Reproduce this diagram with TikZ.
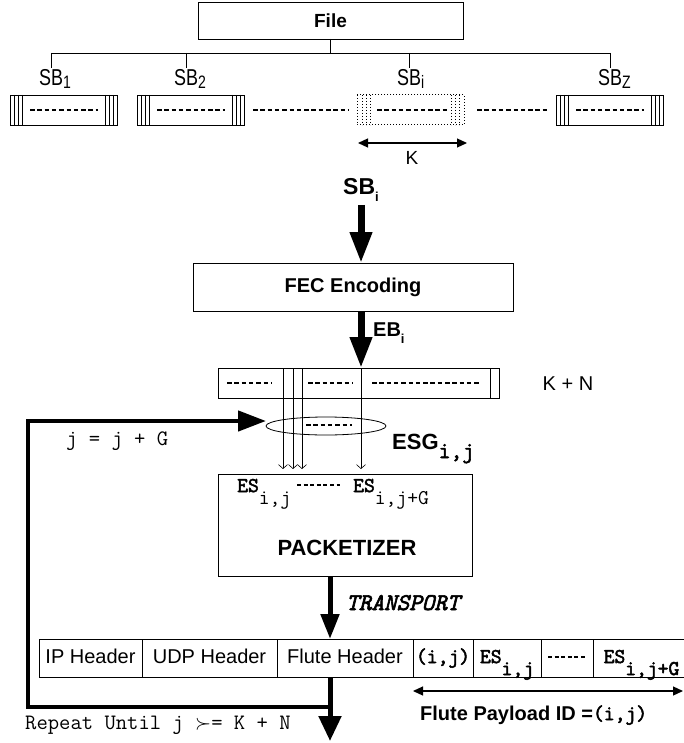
\documentclass[tikz,border=0pt]{standalone}
\usepackage{fontspec}
\setmainfont{Liberation Sans}
\newfontfamily\narrowsf{Liberation Sans}[FakeStretch=0.78]
\newfontfamily\ttb{Latin Modern Mono}[FakeBold=2.5]
\usetikzlibrary{arrows.meta,positioning,shapes.geometric}

\newcommand{\pt}[1]{\fontsize{#1}{#1}\selectfont}
\newcommand{\lowsub}[2]{\raisebox{-#1}[0pt][0pt]{#2}}

\tikzset{
  box/.style={draw, line width=0.8pt, inner sep=0pt, outer sep=0pt},
  cell/.style={draw, line width=0.8pt, inner sep=0pt, outer sep=0pt,
    minimum height=38pt, text height=14pt, text depth=4pt, font=\pt{20}},
  filler/.style={line width=1.8pt, dash pattern=on 4.5pt off 2.8pt},
  fat/.style={line width=7pt, -{Triangle[length=31pt,width=21pt]}},
  loopline/.style={line width=4.5pt},
  feed/.style={line width=0.6pt, shorten >=5pt, -{Straight Barb[length=4pt,width=9pt]}},
  spanarrow/.style={line width=1.2pt,
    {Triangle[length=10pt,width=9pt]}-{Triangle[length=10pt,width=9pt]}},
  lab/.style={anchor=base west, inner sep=0pt},
}

\begin{document}
\begin{tikzpicture}[x=1pt,y=-1pt]
    \useasboundingbox (0,0) rectangle (683,743);

    % file and source blocks
    \node[box, minimum width=265pt, minimum height=37pt, font=\bfseries\pt{19}] (file) at (330.5,20.5) {File};
    \coordinate (bus) at (330.5,53);
    \draw[line width=0.8pt] (file.south) -- (bus);
    \foreach \name/\x/\sub in {sba/51/1, sbb/186/2, sbi/409/i, sbz/610/Z} {
        \coordinate (\name-t) at (\x,53);
        \coordinate (\name-e) at (\x,68);
        \draw[line width=0.8pt] (\name-t) -- (\name-e);
        \node[lab, font=\narrowsf\pt{23}] (\name-lab) at (\x-12,86) {SB\lowsub{3pt}{\pt{18}\sub}};
    }
    \draw[line width=0.8pt] (sba-t) -- (sbz-t);

    \foreach \x in {10,137,556} {
        \draw[line width=0.8pt] (\x,95) rectangle ++(107,30);
        \foreach \d in {4,8,12} {
            \draw[line width=0.7pt] (\x+\d,95) -- ++(0,30);
            \draw[line width=0.7pt] (\x+107-\d,95) -- ++(0,30);
        }
        \draw[filler] (\x+20,110) -- ++(68,0);
    }
    \draw[dotted, line width=1pt] (357,95) rectangle ++(107,30);
    \foreach \d in {5,9,13} {
        \draw[dotted, line width=1pt] (357+\d,95) -- ++(0,30);
        \draw[dotted, line width=1pt] (464-\d,95) -- ++(0,30);
    }
    \draw[filler] (377,110) -- (447,110);
    \draw[filler] (253,110) -- (348,110);
    \draw[filler] (477,110) -- (547,110);

    \coordinate (ka) at (358,143);
    \coordinate (kb) at (467,143);
    \draw[spanarrow] (ka) -- (kb);
    \node[font=\pt{19}] (klab) at (412,158) {K};

    % FEC encoding
    \node[lab, font=\bfseries\pt{23}] (sbin) at (343,195) {SB\lowsub{7pt}{\pt{13}i}};
    \node[box, minimum width=320pt, minimum height=48pt, font=\bfseries\pt{20}] (fec) at (353,287) {FEC Encoding};
    \coordinate (sbarrow) at (361,205);
    \draw[fat] (sbarrow) -- (sbarrow |- fec.north);

    \node[box, minimum width=281pt, minimum height=30pt] (kn) at (358.5,383) {};
    \draw[fat] (sbarrow |- fec.south) -- (sbarrow |- kn.north);
    \node[lab, font=\bfseries\pt{20}] (ebin) at (373,336) {EB\lowsub{7pt}{\pt{13}i}};
    \draw[line width=0.8pt] ([xshift=-9pt]kn.north east) -- ([xshift=-9pt]kn.south east);
    \draw[filler] (227,383) -- (272,383);
    \draw[filler] (308,383) -- (353,383);
    \draw[filler] (372,383) -- (480,383);
    \node[font=\pt{20}] (knlab) at (568,384) {K + N};

    % encoding symbol group
    \node[ellipse, draw, line width=0.8pt, minimum width=120pt, minimum height=18pt, inner sep=0pt] (esg) at (326,426) {};
    \draw[filler] (306,425) -- (352,425);
    \node[lab, font=\bfseries\pt{22}] (esglab) at (392,449) {ESG\lowsub{9pt}{\ttb\pt{23}i,j}};

    % packetizer
    \node[box, minimum width=254pt, minimum height=102pt] (pack) at (345,525) {};
    \foreach \x in {283,293,302,361} {
        \draw[feed] (\x,0 |- kn.north) -- (\x,0 |- pack.north);
    }
    \node[lab, font=\ttb\pt{21}] (esa) at (237,492) {ES\lowsub{12pt}{\ttfamily i,j}};
    \draw[line width=1.5pt, dash pattern=on 4pt off 2.6pt] (297,485) -- (340,485);
    \node[lab, font=\ttb\pt{21}] (esb) at (353,492) {ES\lowsub{12pt}{\ttfamily i,j+G}};
    \node[font=\bfseries\pt{22}] (packlab) at (347,548) {PACKETIZER};

    % loop back
    \coordinate (loopin) at (266,421);
    \coordinate (lc1) at (28,421);
    \coordinate (lc2) at (28,707);
    \coordinate (lc3) at (330,707);
    \draw[loopline, -{Triangle[length=28pt,width=20pt]}] (lc3) -- (lc2) -- (lc1) -- (loopin);
    \node[lab, font=\ttfamily\pt{22}] (jinc) at (66,445) {j = j + G};

    % packet
    \node[cell, minimum width=103pt, anchor=west] (ip) at (39,658) {IP Header};
    \node[cell, minimum width=135pt, right=0pt of ip] (udp) {UDP Header};
    \node[cell, minimum width=136pt, right=0pt of udp] (flute) {Flute Header};
    \node[cell, minimum width=60pt, right=0pt of flute, font=\ttb\pt{21}] (ij) {(i,j)};
    \node[cell, minimum width=68pt, right=0pt of ij, font=\ttb\pt{21}] (esc) {ES\lowsub{12pt}{i,j}};
    \node[cell, minimum width=52pt, right=0pt of esc] (dots) {};
    \node[cell, minimum width=97pt, right=0pt of dots, font=\ttb\pt{21}] (esd) {ES\lowsub{12pt}{i,j+G}};
    \draw[line width=1.5pt, dash pattern=on 4pt off 2.6pt] ([xshift=7pt,yshift=1pt]dots.west) -- ([xshift=-7pt,yshift=1pt]dots.east);

    \coordinate (tra) at (330,0 |- pack.south);
    \draw[line width=5pt, -{Triangle[length=25pt,width=18pt]}] (tra) -- (tra |- flute.north);
    \node[lab, font=\ttb\itshape\pt{24}] (translab) at (346,610) {TRANSPORT};

    \coordinate (pla) at (413,691);
    \coordinate (plb) at (683,691);
    \draw[spanarrow] (pla) -- (plb);
    \node[lab, font=\bfseries\pt{20}] (payload) at (420,720) {Flute Payload ID =\ttb\pt{21}(i,j)};

    \coordinate (out) at (330,741);
    \draw[line width=5pt, -{Triangle[length=25pt,width=22pt]}] (tra |- flute.south) -- (out);
    \node[lab, font=\ttfamily\pt{22}] (repeat) at (25,729) {Repeat Until j $\succ$= K + N};
\end{tikzpicture}
\end{document}
